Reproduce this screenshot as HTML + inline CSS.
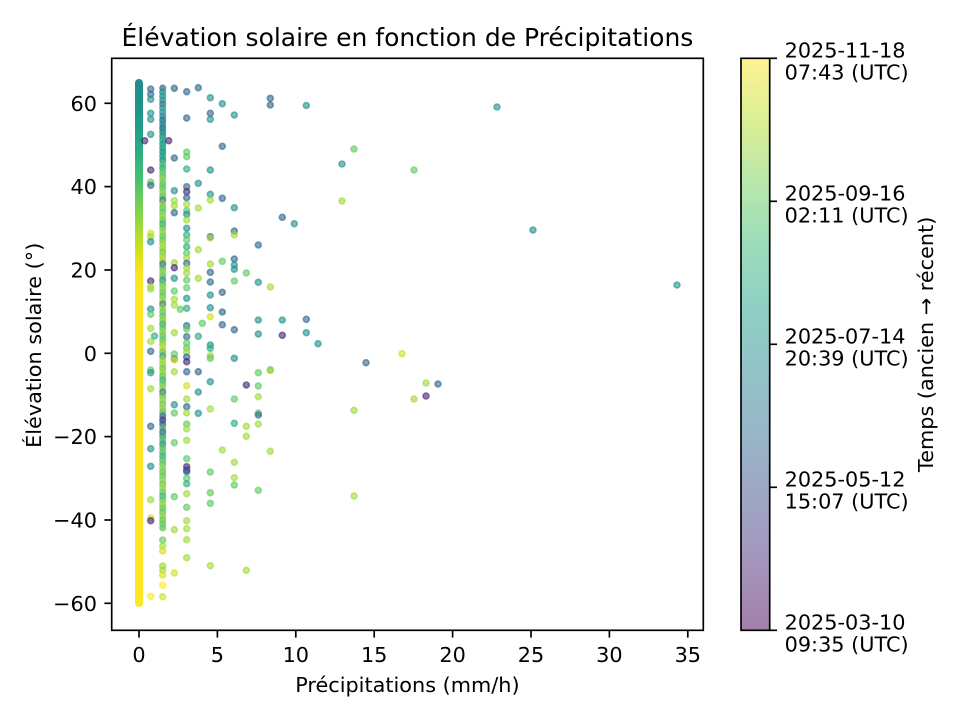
<!DOCTYPE html>
<html><head><meta charset="utf-8"><style>
html,body{margin:0;padding:0;background:#fff;}
svg{display:block;}
text{font-family:"DejaVu Sans","Liberation Sans",sans-serif;fill:#000;}
.pt circle{fill-opacity:.6;stroke-opacity:.6;stroke-width:1.6;}
.dc circle{fill-opacity:.45;stroke-opacity:.45;stroke-width:1.4;}
.p{fill:#482878;stroke:#482878}
.b{fill:#31688e;stroke:#31688e}
.t{fill:#21918c;stroke:#21918c}
.tg{fill:#29af7f;stroke:#29af7f}
.g{fill:#5ec962;stroke:#5ec962}
.yg{fill:#a0da39;stroke:#a0da39}
.y{fill:#d0e11c;stroke:#d0e11c}
.yy{fill:#fde725;stroke:#fde725}
</style></head><body>
<svg width="960" height="720" viewBox="0 0 960 720" xmlns="http://www.w3.org/2000/svg">
<defs>
<linearGradient id="cb" x1="0" y1="1" x2="0" y2="0">
<stop offset="0" stop-color="#a180aa"/><stop offset="0.1111" stop-color="#a494bc"/><stop offset="0.2222" stop-color="#9fa4c4"/><stop offset="0.3333" stop-color="#98b4c7"/><stop offset="0.4444" stop-color="#93c1c7"/><stop offset="0.5556" stop-color="#8fcfc4"/><stop offset="0.6667" stop-color="#9adbbc"/><stop offset="0.7778" stop-color="#b7e7ac"/><stop offset="0.8889" stop-color="#daef95"/><stop offset="1" stop-color="#fef392"/>
</linearGradient>
<linearGradient id="c0" gradientUnits="userSpaceOnUse" x1="0" y1="79" x2="0" y2="607">
<stop offset="0" stop-color="#238a8d"/><stop offset="0.059" stop-color="#20938c"/><stop offset="0.119" stop-color="#22a785"/><stop offset="0.182" stop-color="#40bd72"/><stop offset="0.244" stop-color="#7ad151"/><stop offset="0.29" stop-color="#aadc32"/><stop offset="0.324" stop-color="#d0e11c"/><stop offset="0.358" stop-color="#f1e51d"/><stop offset="0.4" stop-color="#fbe723"/><stop offset="1" stop-color="#fae622"/>
</linearGradient>
<linearGradient id="c1" gradientUnits="userSpaceOnUse" x1="0" y1="85" x2="0" y2="531">
<stop offset="0" stop-color="#7fa9c2"/><stop offset="0.034" stop-color="#7cc2bb"/><stop offset="0.061" stop-color="#8cc8c0"/><stop offset="0.074" stop-color="#5a8fae"/><stop offset="0.101" stop-color="#3d8598"/><stop offset="0.123" stop-color="#4aa3a0"/><stop offset="0.146" stop-color="#2f9a88"/><stop offset="0.168" stop-color="#3aa38a"/><stop offset="0.191" stop-color="#6cc68a"/><stop offset="0.224" stop-color="#5cc070"/><stop offset="0.258" stop-color="#84cc66"/><stop offset="0.291" stop-color="#98d35a"/><stop offset="0.325" stop-color="#8ccf60"/><stop offset="0.359" stop-color="#a8d84c"/><stop offset="0.381" stop-color="#c3dc40"/><stop offset="0.397" stop-color="#6b9aa8"/><stop offset="0.415" stop-color="#7bb39a"/><stop offset="0.448" stop-color="#8fcd6a"/><stop offset="0.482" stop-color="#a3d558"/><stop offset="0.516" stop-color="#96cf62"/><stop offset="0.549" stop-color="#6fbf82"/><stop offset="0.583" stop-color="#8dcc6a"/><stop offset="0.616" stop-color="#b0d950"/><stop offset="0.65" stop-color="#9dd35c"/><stop offset="0.684" stop-color="#86c97a"/><stop offset="0.717" stop-color="#b8d65a"/><stop offset="0.74" stop-color="#7a8fb0"/><stop offset="0.762" stop-color="#6f7aa8"/><stop offset="0.785" stop-color="#7c9a8c"/><stop offset="0.818" stop-color="#79c68c"/><stop offset="0.852" stop-color="#7dc98a"/><stop offset="0.886" stop-color="#9dd68e"/><stop offset="0.919" stop-color="#a6d97e"/><stop offset="0.953" stop-color="#98d364"/><stop offset="1" stop-color="#9bd662"/>
</linearGradient>
</defs>
<rect x="0" y="0" width="960" height="720" fill="#fff"/>

<text x="407.4" y="46" font-size="25" text-anchor="middle">Élévation solaire en fonction de Précipitations</text>

<rect x="135" y="79" width="8" height="528" rx="4" fill="url(#c0)"/>
<rect x="159.6" y="85" width="6.2" height="446" rx="3.1" fill="url(#c1)" opacity="0.75"/>

<g class="dc">
<circle class="b" cx="162.7" cy="88" r="3"/><circle class="t" cx="162.7" cy="92" r="3"/><circle class="t" cx="162.7" cy="96" r="3"/><circle class="t" cx="162.7" cy="100" r="3"/><circle class="b" cx="162.7" cy="104" r="3"/><circle class="t" cx="162.7" cy="108" r="3"/><circle class="t" cx="162.7" cy="112" r="3"/><circle class="t" cx="162.7" cy="116" r="3"/>
<circle class="b" cx="162.7" cy="120" r="3"/><circle class="t" cx="162.7" cy="124" r="3"/><circle class="b" cx="162.7" cy="128" r="3"/><circle class="t" cx="162.7" cy="132" r="3"/><circle class="t" cx="162.7" cy="136" r="3"/><circle class="tg" cx="162.7" cy="140" r="3"/><circle class="t" cx="162.7" cy="144" r="3"/><circle class="tg" cx="162.7" cy="148" r="3"/><circle class="t" cx="162.7" cy="152" r="3"/><circle class="tg" cx="162.7" cy="156" r="3"/><circle class="t" cx="162.7" cy="160" r="3"/>
<circle class="g" cx="162.7" cy="164" r="3"/><circle class="tg" cx="162.7" cy="168" r="3"/><circle class="g" cx="162.7" cy="172" r="3"/><circle class="g" cx="162.7" cy="176" r="3"/><circle class="yg" cx="162.7" cy="180" r="3"/><circle class="g" cx="162.7" cy="184" r="3"/><circle class="g" cx="162.7" cy="188" r="3"/><circle class="yg" cx="162.7" cy="192" r="3"/><circle class="g" cx="162.7" cy="196" r="3"/><circle class="b" cx="162.7" cy="200" r="3"/><circle class="yg" cx="162.7" cy="204" r="3"/><circle class="g" cx="162.7" cy="208" r="3"/><circle class="g" cx="162.7" cy="212" r="3"/><circle class="yg" cx="162.7" cy="216" r="3"/><circle class="g" cx="162.7" cy="220" r="3"/><circle class="tg" cx="162.7" cy="224" r="3"/><circle class="g" cx="162.7" cy="228" r="3"/><circle class="yg" cx="162.7" cy="232" r="3"/><circle class="g" cx="162.7" cy="236" r="3"/><circle class="g" cx="162.7" cy="240" r="3"/><circle class="yg" cx="162.7" cy="244" r="3"/><circle class="yg" cx="162.7" cy="248" r="3"/><circle class="g" cx="162.7" cy="252" r="3"/><circle class="yg" cx="162.7" cy="256" r="3"/><circle class="y" cx="162.7" cy="260" r="3"/>
<circle class="b" cx="162.7" cy="264" r="3"/><circle class="g" cx="162.7" cy="268" r="3"/><circle class="yg" cx="162.7" cy="272" r="3"/><circle class="g" cx="162.7" cy="276" r="3"/><circle class="t" cx="162.7" cy="280" r="3"/><circle class="g" cx="162.7" cy="284" r="3"/><circle class="yg" cx="162.7" cy="288" r="3"/><circle class="g" cx="162.7" cy="292" r="3"/><circle class="g" cx="162.7" cy="296" r="3"/><circle class="yg" cx="162.7" cy="300" r="3"/><circle class="b" cx="162.7" cy="304" r="3"/><circle class="yg" cx="162.7" cy="308" r="3"/><circle class="g" cx="162.7" cy="312" r="3"/><circle class="g" cx="162.7" cy="316" r="3"/><circle class="yg" cx="162.7" cy="320" r="3"/><circle class="tg" cx="162.7" cy="324" r="3"/><circle class="g" cx="162.7" cy="328" r="3"/><circle class="yg" cx="162.7" cy="332" r="3"/><circle class="g" cx="162.7" cy="336" r="3"/><circle class="g" cx="162.7" cy="340" r="3"/><circle class="yg" cx="162.7" cy="344" r="3"/><circle class="y" cx="162.7" cy="348" r="3"/><circle class="g" cx="162.7" cy="352" r="3"/><circle class="t" cx="162.7" cy="356" r="3"/><circle class="yg" cx="162.7" cy="360" r="3"/>
<circle class="yg" cx="162.7" cy="364" r="3"/><circle class="g" cx="162.7" cy="368" r="3"/><circle class="yg" cx="162.7" cy="372" r="3"/><circle class="g" cx="162.7" cy="376" r="3"/><circle class="tg" cx="162.7" cy="380" r="3"/><circle class="g" cx="162.7" cy="384" r="3"/><circle class="yg" cx="162.7" cy="388" r="3"/><circle class="b" cx="162.7" cy="392" r="3"/><circle class="g" cx="162.7" cy="396" r="3"/><circle class="yg" cx="162.7" cy="400" r="3"/><circle class="g" cx="162.7" cy="404" r="3"/><circle class="yg" cx="162.7" cy="408" r="3"/><circle class="g" cx="162.7" cy="412" r="3"/><circle class="b" cx="162.7" cy="416" r="3"/><circle class="p" cx="162.7" cy="420" r="3"/><circle class="b" cx="162.7" cy="424" r="3"/><circle class="g" cx="162.7" cy="428" r="3"/><circle class="b" cx="162.7" cy="432" r="3"/><circle class="tg" cx="162.7" cy="436" r="3"/><circle class="g" cx="162.7" cy="440" r="3"/><circle class="t" cx="162.7" cy="444" r="3"/><circle class="g" cx="162.7" cy="448" r="3"/><circle class="g" cx="162.7" cy="452" r="3"/><circle class="tg" cx="162.7" cy="456" r="3"/><circle class="g" cx="162.7" cy="460" r="3"/>
<circle class="g" cx="162.7" cy="464" r="3"/><circle class="yg" cx="162.7" cy="468" r="3"/><circle class="g" cx="162.7" cy="472" r="3"/><circle class="g" cx="162.7" cy="476" r="3"/><circle class="yg" cx="162.7" cy="480" r="3"/><circle class="g" cx="162.7" cy="484" r="3"/><circle class="yg" cx="162.7" cy="488" r="3"/><circle class="g" cx="162.7" cy="492" r="3"/><circle class="tg" cx="162.7" cy="496" r="3"/><circle class="g" cx="162.7" cy="500" r="3"/><circle class="yg" cx="162.7" cy="504" r="3"/><circle class="g" cx="162.7" cy="508" r="3"/><circle class="g" cx="162.7" cy="512" r="3"/><circle class="yg" cx="162.7" cy="516" r="3"/><circle class="g" cx="162.7" cy="520" r="3"/><circle class="g" cx="162.7" cy="524" r="3"/><circle class="g" cx="162.7" cy="528" r="3"/>
</g>

<g class="pt">
<circle class="b" cx="150.7" cy="89" r="3"/><circle class="b" cx="150.7" cy="94.3" r="3"/><circle class="t" cx="150.7" cy="99.3" r="3"/><circle class="t" cx="150.7" cy="113.3" r="3"/><circle class="t" cx="150.7" cy="119.3" r="3"/><circle class="t" cx="150.7" cy="134.3" r="3"/><circle class="p" cx="150.7" cy="170" r="3"/><circle class="g" cx="150.7" cy="182" r="3"/><circle class="b" cx="150.7" cy="185.3" r="3"/><circle class="y" cx="150.7" cy="233.3" r="3"/><circle class="yg" cx="150.7" cy="236.7" r="3"/><circle class="t" cx="150.7" cy="241.7" r="3"/><circle class="p" cx="150.7" cy="281" r="3"/><circle class="yg" cx="150.7" cy="286.7" r="3"/><circle class="yg" cx="150.7" cy="289" r="3"/><circle class="t" cx="150.7" cy="309" r="3"/><circle class="g" cx="150.7" cy="314.3" r="3"/><circle class="yg" cx="150.7" cy="328.3" r="3"/><circle class="yg" cx="150.7" cy="341.5" r="3"/><circle class="b" cx="150.7" cy="351.3" r="3"/><circle class="g" cx="150.7" cy="370" r="3"/><circle class="t" cx="150.7" cy="372.7" r="3"/><circle class="yg" cx="150.7" cy="388.7" r="3"/><circle class="b" cx="150.7" cy="426.3" r="3"/><circle class="t" cx="150.7" cy="448.7" r="3"/><circle class="t" cx="150.7" cy="466.3" r="3"/><circle class="yg" cx="150.7" cy="499.7" r="3"/><circle class="y" cx="150.7" cy="518" r="3"/><circle class="p" cx="150.7" cy="520.7" r="3"/><circle class="yy" cx="150.7" cy="596.3" r="3"/>
<circle class="tg" cx="154.5" cy="336" r="3"/><circle class="p" cx="144.7" cy="140.7" r="3"/><circle class="p" cx="168.7" cy="140.7" r="3"/>
<circle class="g" cx="162.7" cy="540" r="3"/><circle class="yg" cx="162.7" cy="546" r="3"/><circle class="y" cx="162.7" cy="551" r="3"/><circle class="yg" cx="162.7" cy="566" r="3"/><circle class="yg" cx="162.7" cy="570" r="3"/><circle class="y" cx="162.7" cy="575" r="3"/><circle class="yy" cx="162.7" cy="585.3" r="3"/><circle class="y" cx="162.7" cy="596.7" r="3"/>
<circle class="b" cx="174.3" cy="88.3" r="3"/><circle class="b" cx="174.3" cy="158" r="3"/><circle class="t" cx="174.3" cy="190.7" r="3"/><circle class="yg" cx="174.3" cy="200.7" r="3"/><circle class="yg" cx="174.3" cy="205.7" r="3"/><circle class="b" cx="174.3" cy="212.7" r="3"/><circle class="yg" cx="174.3" cy="262.7" r="3"/><circle class="p" cx="174.3" cy="267.7" r="3"/><circle class="t" cx="174.3" cy="278.3" r="3"/><circle class="g" cx="174.3" cy="291" r="3"/><circle class="yg" cx="174.3" cy="299.3" r="3"/><circle class="yg" cx="174.3" cy="305" r="3"/><circle class="yg" cx="174.3" cy="332.7" r="3"/><circle class="g" cx="174.3" cy="354" r="3"/><circle class="b" cx="174.3" cy="359" r="3"/><circle class="y" cx="174.3" cy="360" r="3"/><circle class="yg" cx="174.3" cy="371.7" r="3"/><circle class="t" cx="174.3" cy="404.7" r="3"/><circle class="g" cx="174.3" cy="413" r="3"/><circle class="g" cx="174.3" cy="442.7" r="3"/><circle class="g" cx="174.3" cy="496.7" r="3"/><circle class="yg" cx="174.3" cy="529.7" r="3"/><circle class="y" cx="174.3" cy="573" r="3"/>
<circle class="g" cx="180.3" cy="309.3" r="3"/>
<circle class="b" cx="186.7" cy="91.7" r="3"/><circle class="b" cx="186.7" cy="118" r="3"/><circle class="g" cx="186.7" cy="152" r="3"/><circle class="g" cx="186.7" cy="156.7" r="3"/><circle class="tg" cx="186.7" cy="169" r="3"/><circle class="b" cx="186.7" cy="186.7" r="3"/><circle class="p" cx="186.7" cy="191.7" r="3"/><circle class="b" cx="186.7" cy="197.7" r="3"/><circle class="yg" cx="186.7" cy="204.3" r="3"/><circle class="g" cx="186.7" cy="210.7" r="3"/><circle class="t" cx="186.7" cy="214.3" r="3"/><circle class="yg" cx="186.7" cy="220" r="3"/><circle class="t" cx="186.7" cy="228.3" r="3"/><circle class="tg" cx="186.7" cy="235" r="3"/><circle class="g" cx="186.7" cy="240" r="3"/><circle class="tg" cx="186.7" cy="246.7" r="3"/><circle class="g" cx="186.7" cy="253" r="3"/><circle class="yg" cx="186.7" cy="258" r="3"/><circle class="b" cx="186.7" cy="263.3" r="3"/><circle class="yg" cx="186.7" cy="268" r="3"/><circle class="yg" cx="186.7" cy="273" r="3"/><circle class="g" cx="186.7" cy="280" r="3"/><circle class="g" cx="186.7" cy="287.7" r="3"/><circle class="t" cx="186.7" cy="298.3" r="3"/><circle class="tg" cx="186.7" cy="308.3" r="3"/><circle class="b" cx="186.7" cy="325.7" r="3"/><circle class="g" cx="186.7" cy="329" r="3"/><circle class="b" cx="186.7" cy="336.7" r="3"/><circle class="g" cx="186.7" cy="343" r="3"/><circle class="g" cx="186.7" cy="348" r="3"/><circle class="yg" cx="186.7" cy="352" r="3"/><circle class="b" cx="186.7" cy="357" r="3"/><circle class="p" cx="186.7" cy="361.7" r="3"/><circle class="b" cx="186.7" cy="371.7" r="3"/><circle class="y" cx="186.7" cy="385.7" r="3"/><circle class="yg" cx="186.7" cy="399" r="3"/><circle class="b" cx="186.7" cy="406.7" r="3"/><circle class="yg" cx="186.7" cy="413" r="3"/><circle class="g" cx="186.7" cy="424" r="3"/><circle class="yg" cx="186.7" cy="429" r="3"/><circle class="yg" cx="186.7" cy="440.3" r="3"/><circle class="g" cx="186.7" cy="458.7" r="3"/><circle class="p" cx="186.7" cy="466.7" r="3"/><circle class="p" cx="186.7" cy="470" r="3"/><circle class="b" cx="186.7" cy="471.7" r="3"/><circle class="g" cx="186.7" cy="478.3" r="3"/><circle class="tg" cx="186.7" cy="483.7" r="3"/><circle class="yg" cx="186.7" cy="493.7" r="3"/><circle class="g" cx="186.7" cy="507.3" r="3"/><circle class="yg" cx="186.7" cy="520.7" r="3"/><circle class="yg" cx="186.7" cy="528.7" r="3"/><circle class="yg" cx="186.7" cy="539.7" r="3"/><circle class="yg" cx="186.7" cy="557.7" r="3"/>
<circle class="b" cx="198.3" cy="87.7" r="3"/><circle class="t" cx="198.3" cy="183.3" r="3"/><circle class="yg" cx="198.3" cy="208" r="3"/><circle class="yg" cx="198.3" cy="249.7" r="3"/><circle class="yg" cx="198.3" cy="278.3" r="3"/><circle class="tg" cx="198.3" cy="336.3" r="3"/><circle class="b" cx="198.3" cy="371.7" r="3"/><circle class="t" cx="198.3" cy="392" r="3"/><circle class="t" cx="198.3" cy="413.3" r="3"/><circle class="g" cx="202.3" cy="323.3" r="3"/>
<circle class="t" cx="210.3" cy="97.7" r="3"/><circle class="b" cx="210.3" cy="113.3" r="3"/><circle class="t" cx="210.3" cy="119.3" r="3"/><circle class="t" cx="210.3" cy="170" r="3"/><circle class="t" cx="210.3" cy="194.3" r="3"/><circle class="yg" cx="210.3" cy="200" r="3"/><circle class="b" cx="210.3" cy="236.7" r="3"/><circle class="yg" cx="210.3" cy="238" r="3"/><circle class="yg" cx="210.3" cy="264" r="3"/><circle class="b" cx="210.3" cy="272.3" r="3"/><circle class="b" cx="210.3" cy="282" r="3"/><circle class="t" cx="210.3" cy="295" r="3"/><circle class="t" cx="210.3" cy="307.7" r="3"/><circle class="y" cx="210.3" cy="316.7" r="3"/><circle class="t" cx="210.3" cy="345" r="3"/><circle class="tg" cx="210.3" cy="348.3" r="3"/><circle class="yg" cx="210.3" cy="355.7" r="3"/><circle class="g" cx="210.3" cy="358.3" r="3"/><circle class="t" cx="210.3" cy="381.7" r="3"/><circle class="yg" cx="210.3" cy="409" r="3"/><circle class="g" cx="210.3" cy="472" r="3"/><circle class="g" cx="210.3" cy="492.7" r="3"/><circle class="g" cx="210.3" cy="503.3" r="3"/><circle class="yg" cx="210.3" cy="565.7" r="3"/>
<circle class="t" cx="222.3" cy="103.7" r="3"/><circle class="b" cx="222.3" cy="146.3" r="3"/><circle class="b" cx="222.3" cy="198.3" r="3"/><circle class="g" cx="222.3" cy="261.3" r="3"/><circle class="b" cx="222.3" cy="292.3" r="3"/><circle class="b" cx="222.3" cy="312" r="3"/><circle class="b" cx="222.3" cy="324.7" r="3"/><circle class="yg" cx="222.3" cy="450" r="3"/>
<circle class="t" cx="234.3" cy="115" r="3"/><circle class="t" cx="234.3" cy="207.7" r="3"/><circle class="b" cx="234.3" cy="231" r="3"/><circle class="yg" cx="234.3" cy="235" r="3"/><circle class="b" cx="234.3" cy="259" r="3"/><circle class="t" cx="234.3" cy="265" r="3"/><circle class="t" cx="234.3" cy="269.3" r="3"/><circle class="g" cx="234.3" cy="281" r="3"/><circle class="b" cx="234.3" cy="329.7" r="3"/><circle class="t" cx="234.3" cy="358.3" r="3"/><circle class="g" cx="234.3" cy="399" r="3"/><circle class="tg" cx="234.3" cy="423.3" r="3"/><circle class="yg" cx="234.3" cy="462.3" r="3"/><circle class="yg" cx="234.3" cy="477.7" r="3"/><circle class="g" cx="234.3" cy="485" r="3"/>
<circle class="g" cx="246.3" cy="273" r="3"/><circle class="p" cx="246.3" cy="385" r="3"/><circle class="yg" cx="246.3" cy="426.3" r="3"/><circle class="yg" cx="246.3" cy="436.3" r="3"/><circle class="yg" cx="246.3" cy="570.3" r="3"/>
<circle class="b" cx="258.3" cy="245" r="3"/><circle class="t" cx="258.3" cy="282.3" r="3"/><circle class="t" cx="258.3" cy="320" r="3"/><circle class="t" cx="258.3" cy="334" r="3"/><circle class="g" cx="258.3" cy="372.7" r="3"/><circle class="g" cx="258.3" cy="386" r="3"/><circle class="yg" cx="258.3" cy="396.7" r="3"/><circle class="g" cx="258.3" cy="413" r="3"/><circle class="b" cx="258.3" cy="415" r="3"/><circle class="yg" cx="258.3" cy="424" r="3"/><circle class="g" cx="258.3" cy="490.3" r="3"/>
<circle class="b" cx="270.3" cy="98.3" r="3"/><circle class="b" cx="270.3" cy="105" r="3"/><circle class="yg" cx="270.3" cy="287" r="3"/><circle class="g" cx="270.3" cy="369.7" r="3"/><circle class="yg" cx="270.3" cy="370.5" r="3"/><circle class="yg" cx="270.3" cy="451.3" r="3"/>
<circle class="b" cx="282.3" cy="217.3" r="3"/><circle class="t" cx="282.3" cy="320" r="3"/><circle class="p" cx="282.3" cy="335.3" r="3"/>
<circle class="t" cx="294.3" cy="223.7" r="3"/>
<circle class="t" cx="306.3" cy="105.5" r="3"/><circle class="b" cx="306.3" cy="319.3" r="3"/><circle class="t" cx="306.3" cy="332.7" r="3"/>
<circle class="t" cx="318" cy="343.7" r="3"/>
<circle class="t" cx="342" cy="164" r="3"/><circle class="yg" cx="342" cy="201" r="3"/><circle class="g" cx="354" cy="149" r="3"/><circle class="yg" cx="354" cy="410.3" r="3"/><circle class="yg" cx="354" cy="496" r="3"/><circle class="b" cx="366" cy="362.7" r="3"/><circle class="y" cx="402" cy="353.7" r="3"/><circle class="g" cx="414" cy="170" r="3"/><circle class="yg" cx="414" cy="399" r="3"/><circle class="yg" cx="426" cy="383" r="3"/><circle class="p" cx="426" cy="396" r="3"/><circle class="b" cx="438" cy="384" r="3"/><circle class="t" cx="497" cy="107" r="3"/><circle class="t" cx="533" cy="230" r="3"/><circle class="t" cx="677" cy="285" r="3"/>
</g>

<rect x="111.7" y="58.3" width="591.6" height="572" fill="none" stroke="#000" stroke-width="1.67"/>

<g stroke="#000" stroke-width="1.67">
<line x1="139" y1="630.3" x2="139" y2="637.6"/><line x1="217.4" y1="630.3" x2="217.4" y2="637.6"/><line x1="295.8" y1="630.3" x2="295.8" y2="637.6"/><line x1="374.2" y1="630.3" x2="374.2" y2="637.6"/><line x1="452.6" y1="630.3" x2="452.6" y2="637.6"/><line x1="531" y1="630.3" x2="531" y2="637.6"/><line x1="609.4" y1="630.3" x2="609.4" y2="637.6"/><line x1="687.8" y1="630.3" x2="687.8" y2="637.6"/>
<line x1="104.4" y1="103.3" x2="111.7" y2="103.3"/><line x1="104.4" y1="186.6" x2="111.7" y2="186.6"/><line x1="104.4" y1="270" x2="111.7" y2="270"/><line x1="104.4" y1="353.3" x2="111.7" y2="353.3"/><line x1="104.4" y1="436.6" x2="111.7" y2="436.6"/><line x1="104.4" y1="520" x2="111.7" y2="520"/><line x1="104.4" y1="603.3" x2="111.7" y2="603.3"/>
</g>
<g font-size="20.8" text-anchor="middle">
<text x="139" y="662">0</text><text x="217.4" y="662">5</text><text x="295.8" y="662">10</text><text x="374.2" y="662">15</text><text x="452.6" y="662">20</text><text x="531" y="662">25</text><text x="609.4" y="662">30</text><text x="687.8" y="662">35</text>
</g>
<g font-size="20.8" text-anchor="end">
<text x="97" y="110.9">60</text><text x="97" y="194.2">40</text><text x="97" y="277.6">20</text><text x="97" y="360.9">0</text><text x="97" y="444.2">−20</text><text x="97" y="527.6">−40</text><text x="97" y="610.9">−60</text>
</g>
<text x="407.4" y="692" font-size="20.8" text-anchor="middle">Précipitations (mm/h)</text>
<text transform="translate(41,345.3) rotate(-90)" font-size="20.8" text-anchor="middle">Élévation solaire (°)</text>

<rect x="741" y="58.3" width="28.7" height="572" fill="url(#cb)" stroke="#000" stroke-width="1.67"/>
<g stroke="#000" stroke-width="1.67">
<line x1="769.7" y1="58.3" x2="777" y2="58.3"/><line x1="769.7" y1="201.3" x2="777" y2="201.3"/><line x1="769.7" y1="344.3" x2="777" y2="344.3"/><line x1="769.7" y1="487.3" x2="777" y2="487.3"/><line x1="769.7" y1="630.3" x2="777" y2="630.3"/>
</g>
<g font-size="20.8">
<text x="784.6" y="57.3">2025-11-18</text><text x="784.6" y="79.3">07:43 (UTC)</text>
<text x="784.6" y="200.3">2025-09-16</text><text x="784.6" y="222.3">02:11 (UTC)</text>
<text x="784.6" y="343.3">2025-07-14</text><text x="784.6" y="365.3">20:39 (UTC)</text>
<text x="784.6" y="486.3">2025-05-12</text><text x="784.6" y="508.3">15:07 (UTC)</text>
<text x="784.6" y="629.3">2025-03-10</text><text x="784.6" y="651.3">09:35 (UTC)</text>
</g>
<text transform="translate(933,344.3) rotate(-90)" font-size="20.8" text-anchor="middle">Temps (ancien → récent)</text>
</svg>
</body></html>
